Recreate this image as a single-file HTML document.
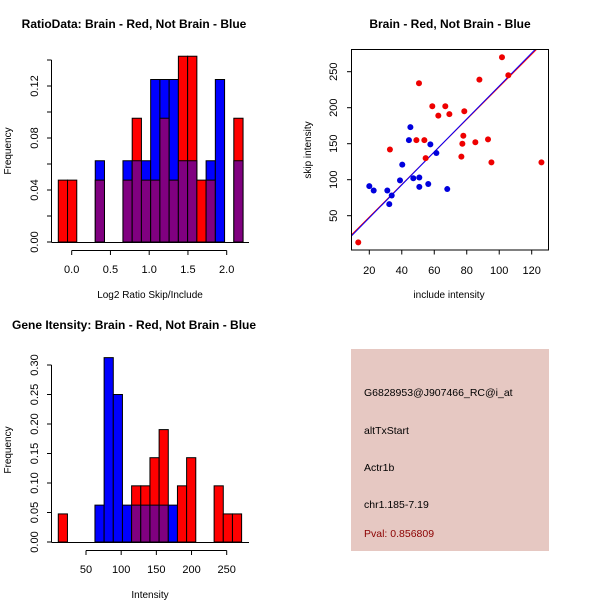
<!DOCTYPE html>
<html><head><meta charset="utf-8"><style>
body{margin:0;background:#fff;}
svg{display:block;font-family:"Liberation Sans",sans-serif;}
</style></head><body>
<svg id="c" width="600" height="600" xmlns="http://www.w3.org/2000/svg">
<rect x="0" y="0" width="600" height="600" fill="#fff"/>
</svg>
<script>
// Ratio histogram data (proportions per bin)
const ratioBinStart = -0.173;
const ratioBinWidth = 0.1192;
const ratioRed  = [0.0476,0.0476,0,0,0.0476,0,0,0.0476,0.0952,0.0476,0.0476,0.0952,0.0476,0.1429,0.1429,0.0476,0.0476,0,0,0.0952];
const ratioBlue = [0,0,0,0,0.0625,0,0,0.0625,0.0625,0.0625,0.125,0.125,0.125,0.0625,0.0625,0,0.0625,0.125,0,0.0625];
const ratioXTicks = [0.0,0.5,1.0,1.5,2.0];
const ratioXLabels = ["0.0","0.5","1.0","1.5","2.0"];
const ratioYTicks = [0,0.04,0.08,0.12];
const ratioYLabels = ["0.00","0.04","0.08","0.12"];
// Intensity histogram data
const intBinStart = 10.6;
const intBinWidth = 13.03;
const intRed  = [0.0476,0,0,0,0,0,0,0,0.0952,0.0952,0.1429,0.1905,0,0.0952,0.1429,0,0,0.0952,0.0476,0.0476];
const intBlue = [0,0,0,0,0.0625,0.3125,0.25,0.0625,0.0625,0.0625,0.0625,0.0625,0.0625,0,0,0,0,0,0,0];
const intXTicks = [50,100,150,200,250];
const intYTicks = [0,0.05,0.10,0.15,0.20,0.25,0.30];
const intYLabels = ["0.00","0.05","0.10","0.15","0.20","0.25","0.30"];
// Scatter data
const redX = [13.2,32.7,50.6,49,53.9,54.7,58.8,62.5,66.8,69.3,78.5,77.9,77.3,76.7,85.3,87.8,93.1,95.2,101.7,105.6,126];
const redY = [13,142,234,155,155,130,202,189,202,191,195,161,150,132,152,239,156,124,270,245,124];
const blueX = [20,22.7,31.1,32.3,33.8,38.9,40.3,45.3,44.4,47.1,50.8,50.8,56.3,57.6,61.3,68];
const blueY = [91,85,85,66,78,99,121,173,155,102,103,90,94,149,137,87];
const lineIntercepts = [3,1.2]; // red, blue
const lineSlopes = [2.26,2.29];
const scXTicks = [20,40,60,80,100,120];
const scYTicks = [50,100,150,200,250];

const svg = document.getElementById('c');
const NS = 'http://www.w3.org/2000/svg';
function mk(tag, attrs, parent){
  const e = document.createElementNS(NS, tag);
  for (const k in attrs) e.setAttribute(k, attrs[k]);
  (parent||svg).appendChild(e);
  return e;
}
function txt(s, x, y, opts, parent){
  const t = mk('text', Object.assign({x:x, y:y, 'font-size':11, 'text-anchor':'middle', fill:'#000'}, opts||{}), parent);
  t.textContent = s;
  return t;
}

// ---------- Histogram helper ----------
function hist(g, red, blue, start, w, sx, sy, base){
  for (let i=0;i<red.length;i++){
    const x0 = sx(start+i*w), x1 = sx(start+(i+1)*w);
    const r = red[i], b = blue[i], m = Math.min(r,b), M = Math.max(r,b);
    if (M<=0) continue;
    const col = r>b ? '#ff0000' : '#0000ff';
    const bar = mk('rect',{x:x0,y:sy(M),width:x1-x0,height:base-sy(M),fill:col,stroke:'#000','stroke-width':1}, g);
    
    
    if (m>0){
      const ov = mk('rect',{x:x0,y:sy(m),width:x1-x0,height:base-sy(m),fill:'#800080',stroke:'#000','stroke-width':1}, g);
      
      
    }
  }
}

// ---------- Panel 1: ratio histogram ----------
(function(){
  const g = mk('g',{});
  
  
  const sx = v => 71.7 + (v-0)*77.5;
  const sy = v => 242 - v*1300;
  txt('RatioData: Brain - Red, Not Brain - Blue', 134, 28, {'font-size':12,'font-weight':'bold'}, g);
  hist(g, ratioRed, ratioBlue, ratioBinStart, ratioBinWidth, sx, sy, 242);
  mk('line',{x1:51.5,y1:242.5,x2:249,y2:242.5,stroke:'#000'},g);
  mk('line',{x1:51.5,y1:sy(0),x2:51.5,y2:sy(0.14),stroke:'#000'},g);
  [0,0.02,0.04,0.06,0.08,0.10,0.12,0.14].forEach(v=>mk('line',{x1:47,y1:sy(v),x2:51.5,y2:sy(v),stroke:'#000'},g));
  ratioYTicks.forEach((v,i)=>{const y=sy(v);const t=txt(ratioYLabels[i],38,y,{transform:`rotate(-90 38 ${y})`},g);});
  mk('line',{x1:sx(0),y1:250.5,x2:sx(2),y2:250.5,stroke:'#000'},g);
  ratioXTicks.forEach((v,i)=>{mk('line',{x1:sx(v),y1:250.5,x2:sx(v),y2:255,stroke:'#000'},g);const t=txt(ratioXLabels[i],sx(v),273,{},g);});
  txt('Log2 Ratio Skip/Include',150,298,{'font-size':10},g);
  txt('Frequency',11,151,{'font-size':10,transform:'rotate(-90 11 151)'},g);
})();

// ---------- Panel 2: scatter ----------
(function(){
  const g = mk('g',{});
  
  
  const sx = v => 369.3 + (v-20)*1.624;
  const sy = v => 215.7 - (v-50)*0.72;
  txt('Brain - Red, Not Brain - Blue', 450, 28, {'font-size':12,'font-weight':'bold'}, g);
  const defs = mk('defs',{},g);
  const cp = mk('clipPath',{id:'clipSc'},defs);
  mk('rect',{x:351.7,y:49.3,width:196.6,height:200.7},cp);
  const lg = mk('g',{'clip-path':'url(#clipSc)'},g);
  const lcol = ['#ff0000','#0000ff'];
  for (let k=0;k<2;k++){
    const xa=5, xb=135;
    const ln = mk('line',{x1:sx(xa),y1:sy(lineIntercepts[k]+lineSlopes[k]*xa),x2:sx(xb),y2:sy(lineIntercepts[k]+lineSlopes[k]*xb),stroke:lcol[k],'stroke-width':1},lg);
    
    
  }
  redX.forEach((x,i)=>{const c=mk('circle',{cx:sx(x),cy:sy(redY[i]),r:3,fill:'#ee0000'},g);});
  blueX.forEach((x,i)=>{const c=mk('circle',{cx:sx(x),cy:sy(blueY[i]),r:3,fill:'#0000dd'},g);});
  mk('rect',{x:351.5,y:49.5,width:197,height:200.5,fill:'none',stroke:'#000'},g);
  scXTicks.forEach(v=>{mk('line',{x1:sx(v),y1:250,x2:sx(v),y2:254.5,stroke:'#000'},g);const t=txt(String(v),sx(v),274,{},g);});
  scYTicks.forEach(v=>{mk('line',{x1:347,y1:sy(v),x2:351.5,y2:sy(v),stroke:'#000'},g);const t=txt(String(v),337,sy(v),{transform:`rotate(-90 337 ${sy(v)})`},g);});
  txt('include intensity',449,298,{'font-size':10},g);
  txt('skip intensity',311,150,{'font-size':10,transform:'rotate(-90 311 150)'},g);
})();

// ---------- Panel 3: intensity histogram ----------
(function(){
  const g = mk('g',{});
  
  
  const sx = v => 86 + (v-50)*0.7035;
  const sy = v => 542 - v*590;
  txt('Gene Itensity: Brain - Red, Not Brain - Blue', 12, 329, {'font-size':12,'font-weight':'bold','text-anchor':'start'}, g);
  hist(g, intRed, intBlue, intBinStart, intBinWidth, sx, sy, 542);
  mk('line',{x1:51.5,y1:542.5,x2:249,y2:542.5,stroke:'#000'},g);
  mk('line',{x1:51.5,y1:sy(0),x2:51.5,y2:sy(0.30),stroke:'#000'},g);
  intYTicks.forEach((v,i)=>{mk('line',{x1:47,y1:sy(v),x2:51.5,y2:sy(v),stroke:'#000'},g);const y=sy(v);const t=txt(intYLabels[i],38,y,{transform:`rotate(-90 38 ${y})`},g);});
  mk('line',{x1:sx(50),y1:550.5,x2:sx(250),y2:550.5,stroke:'#000'},g);
  intXTicks.forEach(v=>{mk('line',{x1:sx(v),y1:550.5,x2:sx(v),y2:555,stroke:'#000'},g);const t=txt(String(v),sx(v),573,{},g);});
  txt('Intensity',150,598,{'font-size':10},g);
  txt('Frequency',11,450,{'font-size':10,transform:'rotate(-90 11 450)'},g);
})();

// ---------- Panel 4: info box ----------
(function(){
  const g = mk('g',{});
  
  
  mk('rect',{x:351,y:349,width:198,height:202,fill:'#e6c8c2'},g);
  const lines = [['G6828953@J907466_RC@i_at',396,'#000','probe-id'],['altTxStart',434,'#000','event-type'],['Actr1b',471,'#000','gene-name'],['chr1.185-7.19',508,'#000','location'],['Pval: 0.856809',537,'#8b0000','p-value']];
  lines.forEach(l=>{const t=txt(l[0],364,l[1],{'text-anchor':'start','font-size':10.5,fill:l[2]},g);});
})();
</script>
</body></html>
